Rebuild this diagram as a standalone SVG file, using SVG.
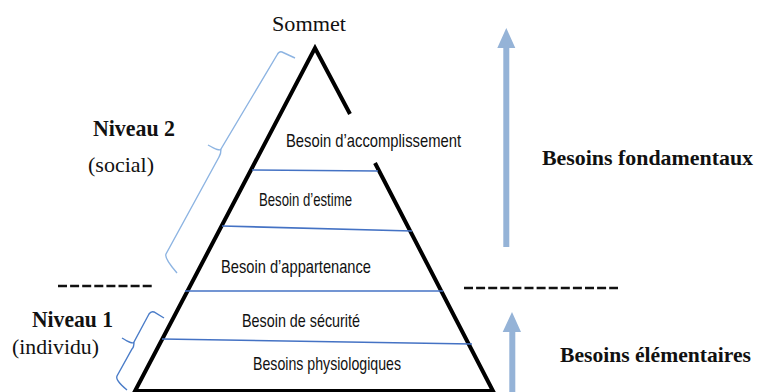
<svg xmlns="http://www.w3.org/2000/svg" width="757" height="392" viewBox="0 0 757 392">
<style>
.serif{font-family:"Liberation Serif","Times New Roman",serif;fill:#111;font-size:22px}
.bold{font-weight:bold;font-size:23px}
.lvl{font-family:"Liberation Sans",Arial,sans-serif;fill:#111;font-size:19px}
.band{stroke:#4472C4;stroke-width:1.6;fill:none}
.dash{stroke:#111;stroke-width:2.5;stroke-dasharray:9 3.1;fill:none}
.arrow{fill:#95B3D7}
</style>
<rect width="757" height="392" fill="#fff"/>
<g id="pyramid">
  <path d="M350,114 L315,48 L135,391 L493,391 L375,163" fill="none" stroke="#000" stroke-width="4" stroke-linejoin="miter"/>
</g>
<g id="connectors">
  <line class="band" x1="252" y1="170" x2="378" y2="171"/>
  <line class="band" x1="222" y1="226" x2="412" y2="231"/>
  <line class="band" x1="185" y1="291" x2="443" y2="291"/>
  <line class="band" x1="162" y1="339" x2="472" y2="344"/>
  <line class="dash" x1="58" y1="286" x2="152" y2="286"/>
  <line class="dash" x1="464" y1="288" x2="618" y2="288"/>
</g>
<g id="sommet"><text class="serif" x="272" y="31" textLength="74" lengthAdjust="spacingAndGlyphs">Sommet</text></g>
<g id="accomplissement"><text class="lvl" x="286" y="147" font-size="18" textLength="175" lengthAdjust="spacingAndGlyphs">Besoin d’accomplissement</text></g>
<g id="estime"><text class="lvl" x="259" y="206" font-size="16.5" textLength="93" lengthAdjust="spacingAndGlyphs">Besoin d’estime</text></g>
<g id="appartenance"><text class="lvl" x="221" y="273" textLength="150" lengthAdjust="spacingAndGlyphs">Besoin d’appartenance</text></g>
<g id="securite"><text class="lvl" x="242" y="327" textLength="118" lengthAdjust="spacingAndGlyphs">Besoin de sécurité</text></g>
<g id="physiologiques"><text class="lvl" x="253" y="370" textLength="148" lengthAdjust="spacingAndGlyphs">Besoins physiologiques</text></g>
<g id="niveau2">
  <path d="M295,58 L282,52 Q279,51 277,55 L221,149 Q220,152 208,145 M221,149 Q221,154 219,157 L166,254 Q164,258 177,273" fill="none" stroke="#8DB4E2" stroke-width="1.4"/>
  <text class="serif bold" x="93" y="136" textLength="82" lengthAdjust="spacingAndGlyphs">Niveau 2</text>
  <text class="serif" x="88" y="172" textLength="66" lengthAdjust="spacingAndGlyphs">(social)</text>
</g>
<g id="niveau1">
  <path d="M164,318 L154,312 Q151,311 149,314 L134,342 Q133,345 122,338 M134,342 Q134,347 132,349 L117,376 Q115,380 127,390" fill="none" stroke="#4A7CC8" stroke-width="1.4"/>
  <text class="serif bold" x="32" y="327" textLength="81" lengthAdjust="spacingAndGlyphs">Niveau 1</text>
  <text class="serif" x="12" y="354" textLength="87" lengthAdjust="spacingAndGlyphs">(individu)</text>
</g>
<g id="fondamentaux">
  <path class="arrow" d="M503.3,247 L503.3,48 L497.3,48 L506.3,28 L515.3,48 L509.3,48 L509.3,247 Z"/>
  <text class="serif bold" x="542" y="165" font-size="22" style="font-size:22px" textLength="211" lengthAdjust="spacingAndGlyphs">Besoins fondamentaux</text>
</g>
<g id="elementaires">
  <path class="arrow" d="M509.3,392 L509.3,332 L502.7,332 L512,312 L521,332 L515.3,332 L515.3,392 Z"/>
  <text class="serif bold" x="560" y="362" style="font-size:22px" textLength="191" lengthAdjust="spacingAndGlyphs">Besoins élémentaires</text>
</g>
</svg>
